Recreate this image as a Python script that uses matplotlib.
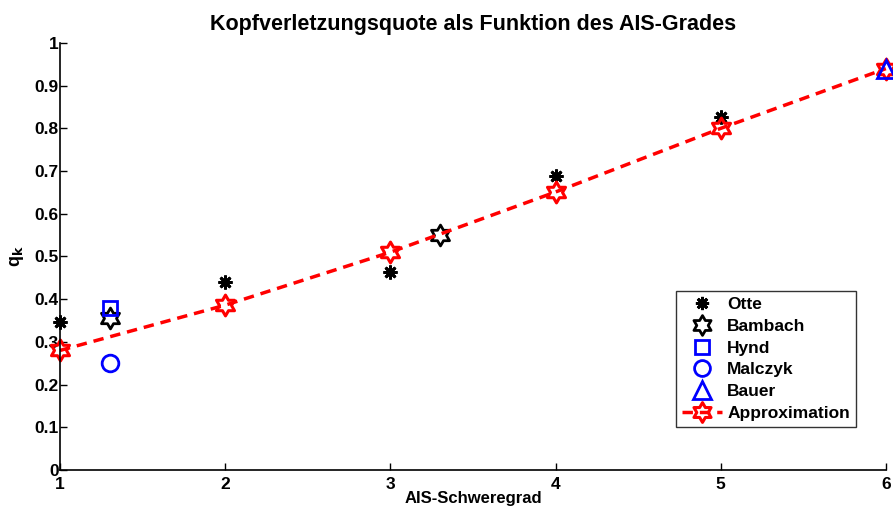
import matplotlib
matplotlib.use("Agg")
import matplotlib.pyplot as plt
import numpy as np
from matplotlib.path import Path

plt.rcParams['font.family'] = ['Liberation Sans', 'DejaVu Sans']
plt.rcParams['font.weight'] = 'bold'

otte_x = [1, 2, 3, 4, 5]
otte_y = [0.347, 0.44, 0.464, 0.689, 0.827]
bambach_x = [1.3, 3.3]
bambach_y = [0.356, 0.55]
hynd_x = [1.3]
hynd_y = [0.38]
malczyk_x = [1.3]
malczyk_y = [0.25]
bauer_x = [6]
bauer_y = [0.94]
approx_x = [1, 2, 3, 4, 5, 6]
approx_y = [0.28, 0.386, 0.51, 0.651, 0.80, 0.94]

# hexagram marker like matlab 'h'
ang = np.pi / 2 + np.arange(12) * np.pi / 6
rad = np.where(np.arange(12) % 2 == 0, 1.0, 1 / np.sqrt(3))
verts = np.column_stack([rad * np.cos(ang), rad * np.sin(ang)])
verts = np.vstack([verts, verts[:1]])
hexagram = Path(verts, [Path.MOVETO] + [Path.LINETO] * 11 + [Path.CLOSEPOLY])

fig = plt.figure(figsize=(8.93, 5.08), dpi=100)
ax = fig.add_axes([0.0672, 0.0748, 0.9248, 0.8406])

ax.plot(otte_x, otte_y, ls='none', marker=(8, 2, 0), ms=10, mew=2, color='k', label='Otte', clip_on=False)
ax.plot(bambach_x, bambach_y, ls='none', marker=hexagram, ms=15, mew=2, color='k',
        mfc='none', label='Bambach', clip_on=False)
ax.plot(hynd_x, hynd_y, ls='none', marker='s', ms=10, mew=2, color='b', mfc='none', label='Hynd', clip_on=False)
ax.plot(malczyk_x, malczyk_y, ls='none', marker='o', ms=12, mew=2, color='b', mfc='none', label='Malczyk',
        clip_on=False)
ax.plot(approx_x, approx_y, ls='--', lw=2.5, dashes=(3, 2), marker=hexagram, ms=15, mew=2.2,
        color='r', mfc='none', label='Approximation', zorder=2, clip_on=False)
ax.plot(bauer_x, bauer_y, ls='none', marker='^', ms=13, mew=2, color='b', mfc='none',
        label='Bauer', zorder=3, clip_on=False)

ax.set_xlim(1, 6)
ax.set_ylim(0, 1)
ax.set_xticks([1, 2, 3, 4, 5, 6])
ax.set_yticks(np.arange(0, 1.01, 0.1))
ax.set_yticklabels(['0', '0.1', '0.2', '0.3', '0.4', '0.5', '0.6', '0.7', '0.8', '0.9', '1'])
ax.tick_params(direction='in', length=5, labelsize=12.5, width=1, pad=1)
ax.tick_params(axis='x', pad=5)
for lab in ax.get_xticklabels() + ax.get_yticklabels():
    lab.set_fontweight('bold')
ax.spines['top'].set_visible(False)
ax.spines['right'].set_visible(False)
ax.spines['left'].set_linewidth(1.2)
ax.spines['bottom'].set_linewidth(1.2)

ax.set_title('Kopfverletzungsquote als Funktion des AIS-Grades', fontsize=15.5, fontweight='bold', pad=9)
ax.set_xlabel('AIS-Schweregrad', fontsize=12, fontweight='bold', labelpad=-1)
ax.set_ylabel('q$_\\mathbf{k}$', fontsize=13, fontweight='bold', labelpad=6)

h, l = ax.get_legend_handles_labels()
order = ['Otte', 'Bambach', 'Hynd', 'Malczyk', 'Bauer', 'Approximation']
hd = dict(zip(l, h))
leg = ax.legend([hd[k] for k in order], order, loc='lower right', bbox_to_anchor=(0.964, 0.1007),
                fontsize=12.5, frameon=True, fancybox=False, edgecolor='k', handlelength=2.3,
                handletextpad=0.3, labelspacing=0.38, borderpad=0.35, borderaxespad=0,
                markerscale=0.95)
leg.get_frame().set_linewidth(1)
for t in leg.get_texts():
    t.set_fontweight('bold')

fig.savefig('out.png', dpi=100)
